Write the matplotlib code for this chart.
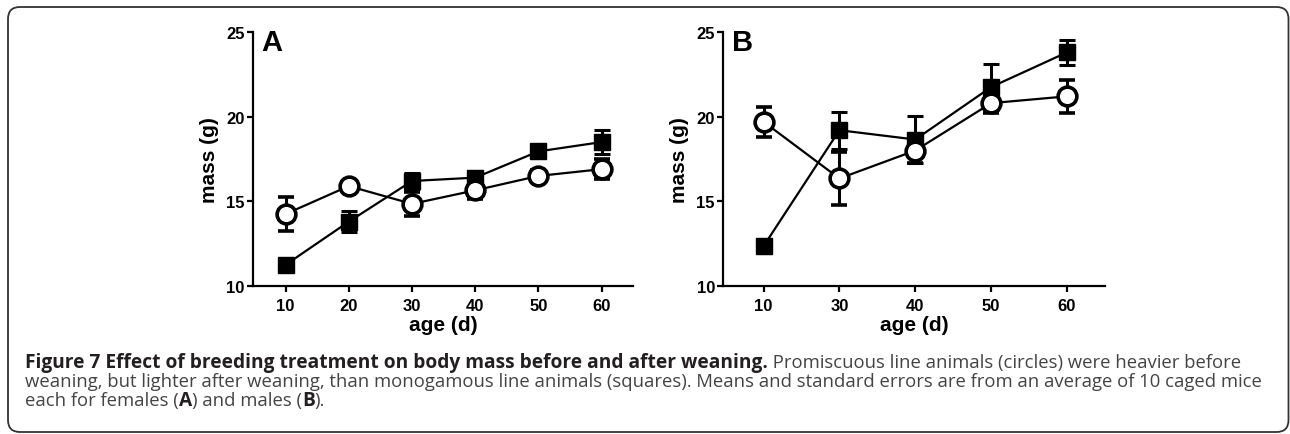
import matplotlib
matplotlib.use("Agg")
import matplotlib.pyplot as plt
from matplotlib.patches import FancyBboxPatch
from matplotlib.transforms import IdentityTransform

# panel A (females): circles = promiscuous, squares = monogamous
ages_a = [10, 20, 30, 40, 50, 60]
circ_a = [14.25, 15.9, 14.85, 15.65, 16.5, 16.9]
circ_a_err = [1.0, 0.1, 0.7, 0.5, 0.35, 0.6]
sq_a = [11.25, 13.8, 16.2, 16.4, 17.95, 18.5]
sq_a_err = [0.1, 0.63, 0.45, 0.4, 0.4, 0.7]

# panel B (males), ages drawn as evenly spaced categories
ages_b = ["10", "30", "40", "50", "60"]
circ_b = [19.7, 16.35, 18.0, 20.8, 21.2]
circ_b_err = [0.88, 1.55, 0.75, 0.6, 0.98]
sq_b = [12.35, 19.2, 18.65, 21.75, 23.8]
sq_b_err = [0.4, 1.1, 1.4, 1.38, 0.75]

yticks = [10, 15, 20, 25]

W, H = 1290, 435
fig = plt.figure(figsize=(W / 100, H / 100), dpi=100)

# rounded frame round the whole figure
frame = FancyBboxPatch((8, 2), 1280.5, 425, boxstyle="round,pad=0,rounding_size=12",
                       transform=IdentityTransform(), fill=False, ec="#333333", lw=1.3)
fig.patches.append(frame)

tick_font = ["Liberation Sans Narrow", "Liberation Sans", "DejaVu Sans"]
label_font = ["Liberation Sans", "DejaVu Sans"]


def style_axes(ax, letter, xlab_y, ylab_x):
    for s in ["top", "right"]:
        ax.spines[s].set_visible(False)
    for s in ["left", "bottom"]:
        ax.spines[s].set_linewidth(1.6)
    ax.set_ylim(10, 25)
    ax.set_yticks(yticks)
    ax.tick_params(direction="out", length=4.5, width=1.6)
    ax.tick_params(axis="x", pad=4)
    ax.tick_params(axis="y", pad=1.5)
    for lab in ax.get_xticklabels() + ax.get_yticklabels():
        lab.set_fontfamily(tick_font)
        lab.set_fontweight("bold")
        lab.set_fontsize(12)
    ax.set_ylabel("mass (g)", fontsize=15, fontweight="bold", family=label_font)
    ax.set_xlabel("age (d)", fontsize=15, fontweight="bold", family=label_font)
    ax.yaxis.set_label_coords(ylab_x, 0.5)
    ax.xaxis.set_label_coords(0.5, xlab_y)
    ax.text(0.022, 1.015, letter, transform=ax.transAxes, va="top", ha="left",
            fontsize=21, fontweight="bold", family=label_font)


def draw_series(ax, x, sq, sq_err, circ, circ_err):
    ax.errorbar(x, sq, yerr=sq_err, fmt="-s", color="black", ms=11, lw=1.6,
                elinewidth=2.2, capsize=6, capthick=2.2, clip_on=False, zorder=3)
    ax.errorbar(x, circ, yerr=circ_err, fmt="-o", color="black", mfc="white", mec="black",
                mew=2.6, ms=13.5, lw=1.6, elinewidth=2.2, capsize=6, capthick=2.2,
                clip_on=False, zorder=4)


ax_a = fig.add_axes([253 / W, 148 / H, 380 / W, 254 / H])
draw_series(ax_a, ages_a, sq_a, sq_a_err, circ_a, circ_a_err)
ax_a.set_xlim(4.85, 64.95)
ax_a.set_xticks(ages_a)
style_axes(ax_a, "A", -0.115, -0.09)

ax_b = fig.add_axes([723.3 / W, 148 / H, 381.7 / W, 254 / H])
xb = list(range(len(ages_b)))
draw_series(ax_b, xb, sq_b, sq_b_err, circ_b, circ_b_err)
ax_b.set_xlim(-0.53, 4.5)
ax_b.set_xticks(xb)
ax_b.set_xticklabels(ages_b)
style_axes(ax_b, "B", -0.115, -0.09)

# caption, written as runs of bold / regular text
cap_font = ["Open Sans", "DejaVu Sans"]
bold_size = 13.75
reg_size = 13.3
dark = "#231f20"
grey = "#444444"
caption = [
    (67, [("Figure 7 Effect of breeding treatment on body mass before and after weaning.", "bold", dark),
          (" Promiscuous line animals (circles) were heavier before", "normal", grey)]),
    (48, [("weaning, but lighter after weaning, than monogamous line animals (squares). "
           "Means and standard errors are from an average of 10 caged mice", "normal", grey)]),
    (29, [("each for females (", "normal", grey), ("A", "bold", dark),
          (") and males (", "normal", grey), ("B", "bold", dark), (").", "normal", grey)]),
]

renderer = fig.canvas.get_renderer()
for y, runs in caption:
    x = 25
    for s, weight, color in runs:
        size = bold_size if weight == "bold" else reg_size
        t = fig.text(x, y, s, transform=IdentityTransform(), fontsize=size,
                     fontweight=weight, color=color, family=cap_font, va="baseline")
        x += t.get_window_extent(renderer).width

fig.savefig("out.png", dpi=100)
